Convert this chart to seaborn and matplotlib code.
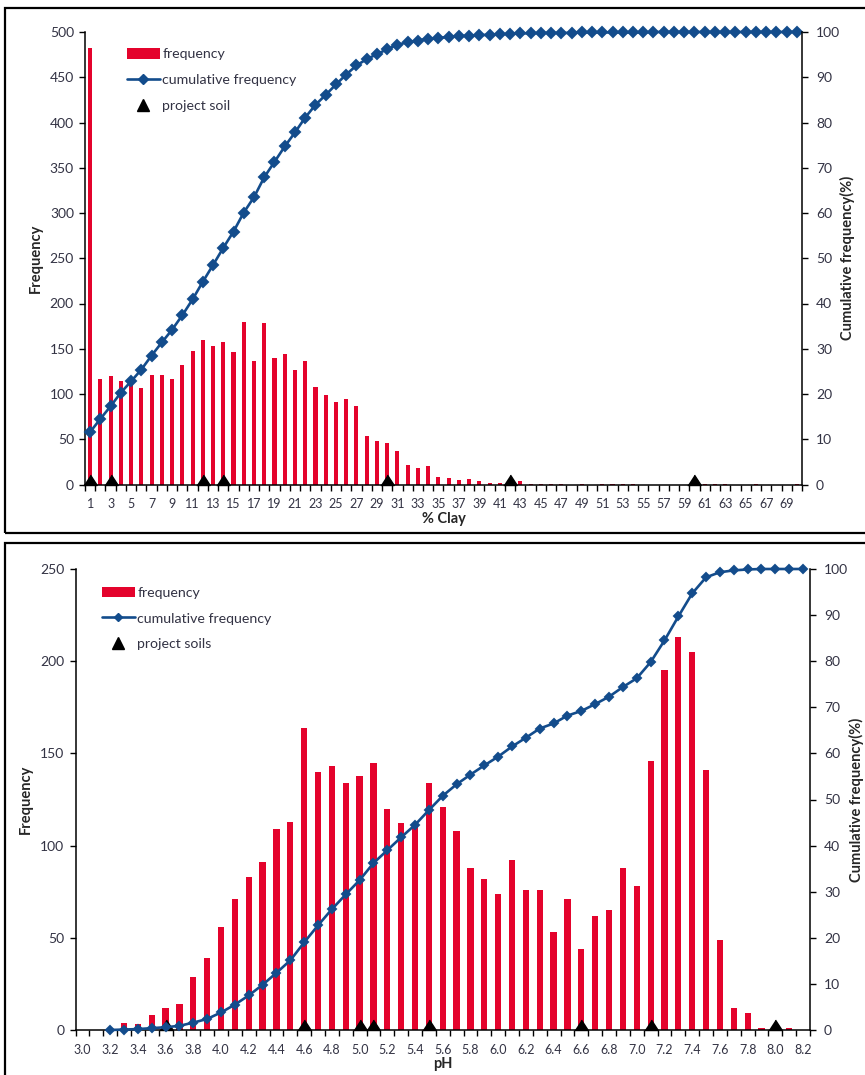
import numpy as np
import matplotlib
matplotlib.use("Agg")
import matplotlib.pyplot as plt
import seaborn as sns
from matplotlib.patches import Rectangle, Patch
from matplotlib.lines import Line2D

# clay chart data
clay_classes = [str(i) for i in range(1, 71)]
clay_freq = [482, 117, 120, 114, 111, 107, 121, 121, 117, 132,
             147, 160, 153, 158, 146, 180, 136, 178, 140, 144,
             126, 137, 108, 99, 91, 94, 87, 54, 48, 46,
             37, 21, 18, 20, 8, 7, 5, 6, 4, 2,
             2, 1, 4, 1, 1, 1, 1, 0, 1, 0,
             1, 1, 1, 1, 0, 0, 0, 0, 0, 0,
             1, 1, 1, 0, 0, 1, 0, 0, 0, 1]
clay_cum = [11.6, 14.5, 17.3, 20.3, 22.8, 25.4, 28.5, 31.4, 34.2, 37.4,
            40.9, 44.8, 48.5, 52.3, 55.9, 60.1, 63.5, 67.9, 71.3, 74.7,
            77.8, 81.1, 83.9, 86.1, 88.4, 90.6, 92.6, 94.0, 95.1, 96.2,
            97.2, 97.7, 98.1, 98.5, 98.7, 98.9, 99.1, 99.2, 99.3, 99.4,
            99.5, 99.6, 99.7, 99.7, 99.8, 99.8, 99.8, 99.8, 99.9, 99.9,
            99.9, 99.9, 99.9, 99.9, 99.9, 100, 100, 100, 100, 100,
            100, 100, 100, 100, 100, 100, 100, 100, 100, 100]
clay_soils = ["1", "3", "12", "14", "30", "42", "60"]

# pH chart data
ph_classes = ["%.1f" % (v / 10) for v in range(30, 83)]
ph_freq = [0, 0, 0, 4, 3, 8, 12, 14, 29, 39,
           56, 71, 83, 91, 109, 113, 164, 140, 143, 134,
           138, 145, 120, 112, 111, 134, 121, 108, 88, 82,
           74, 92, 76, 76, 53, 71, 44, 62, 65, 88,
           78, 146, 195, 213, 205, 141, 49, 12, 9, 1,
           0, 1, 0]
ph_cum_classes = ph_classes[2:]
ph_cum = [0, 0.1, 0.2, 0.4, 0.6, 0.9, 1.6, 2.4, 3.8, 5.5,
          7.5, 9.8, 12.4, 15.1, 19.0, 22.7, 26.2, 29.4, 32.5, 36.2,
          39.0, 41.8, 44.5, 47.7, 50.8, 53.3, 55.4, 57.4, 59.3, 61.5,
          63.4, 65.4, 66.5, 68.2, 69.2, 70.7, 72.3, 74.4, 76.3, 79.8,
          84.5, 89.7, 94.7, 98.2, 99.3, 99.7, 99.9, 100, 100, 100, 100]
ph_soils = ["3.6", "4.6", "5.0", "5.1", "5.5", "6.6", "7.1", "8.0"]

RED = "#E4032C"
BLUE = "#134C8C"
TXT = "#333344"

sns.set_theme(style="ticks")
plt.rcParams["font.family"] = ["Lato", "DejaVu Sans"]

fig = plt.figure(figsize=(8.65, 10.75), dpi=100)
W, H = 865.0, 1075.0

# panel frames
fig.add_artist(Rectangle((5 / W, 1 - 533 / H), 1.2, 525 / H, transform=fig.transFigure,
                         fill=False, lw=1.6, ec="black"))
fig.add_artist(Rectangle((5 / W, -0.1), 1.2, 0.1 + 1 - 543 / H, transform=fig.transFigure,
                         fill=False, lw=1.6, ec="black"))

# triangle with its base on the data point
tri = [(-0.65, 0), (0.65, 0), (0, 1)]


def draw_panel(rect, cats, freq, cum_cats, cum, soils, ymax, ystep, bar_w, ms_d, xlabel,
               soil_label, leg_xy, leg_space, ylab_pad, y2lab_pad):
    ax = fig.add_axes(rect)
    ax2 = ax.twinx()
    sns.barplot(x=cats, y=freq, order=cats, color=RED, saturation=1, width=bar_w,
                linewidth=0, ax=ax)
    sns.pointplot(x=cum_cats, y=cum, order=cats, color=BLUE, markers="D", errorbar=None,
                  markersize=ms_d, linewidth=1.9, clip_on=False, ax=ax2)
    idx = [cats.index(s) for s in soils]
    ax.plot(idx, [0] * len(idx), linestyle="none", marker=tri, ms=15, color="black",
            clip_on=False, zorder=5)

    n = len(cats)
    ax.set_xlim(-0.5, n - 0.5)
    ax.set_ylim(0, ymax)
    ax.set_yticks(np.arange(0, ymax + 1, ystep))
    ax2.set_ylim(0, 100)
    ax2.set_yticks(np.arange(0, 101, 10))
    ax.set_xticks(range(0, n, 2))
    ax.set_xticklabels(cats[::2])
    ax.set_xticks(np.arange(-0.5, n), minor=True)
    ax.tick_params(axis="x", which="major", length=0, pad=10, labelsize=9, labelcolor=TXT)
    ax.tick_params(axis="x", which="minor", length=4, width=1, color="black", direction="out")
    ax.tick_params(axis="y", length=4, width=1, color="black", pad=4, labelsize=10, labelcolor=TXT)
    ax2.tick_params(axis="y", length=4, width=1, color="black", pad=6, labelsize=10, labelcolor=TXT)

    for a in (ax, ax2):
        a.spines["top"].set_visible(False)
        for s in a.spines.values():
            s.set_color("black")
            s.set_linewidth(1.1)
    ax.spines["right"].set_visible(False)
    ax2.spines["left"].set_visible(False)
    ax2.spines["bottom"].set_visible(False)

    ax.set_xlabel(xlabel, fontsize=10.5, fontweight="bold", labelpad=1)
    ax.set_ylabel("Frequency", fontsize=10.5, fontweight="bold", labelpad=ylab_pad)
    ax2.set_ylabel("Cumulative frequency(%)", fontsize=10.5, fontweight="bold", labelpad=y2lab_pad)

    handles = [Patch(facecolor=RED, edgecolor="none"),
               Line2D([], [], color=BLUE, lw=1.9, marker="D", ms=ms_d),
               Line2D([], [], color="black", ls="none", marker="^", ms=8.5)]
    labels = ["frequency", "cumulative frequency", soil_label]
    leg = ax2.legend(handles, labels, loc="upper left", bbox_to_anchor=leg_xy, frameon=False,
                     fontsize=10.2, handlelength=2.3, handleheight=0.75, handletextpad=0.2,
                     labelspacing=leg_space, borderpad=0, borderaxespad=0)
    for t in leg.get_texts():
        t.set_color(TXT)
    return ax, ax2


draw_panel([85 / W, 1 - 484.5 / H, 717 / W, 452.5 / H], clay_classes, clay_freq,
           clay_classes, clay_cum, clay_soils, 500, 50, 0.4, 5.6, "% Clay", "project soil",
           (0.0586, 0.964), 0.97, 5, 0)
draw_panel([75.5 / W, 1 - 1030 / H, 734.5 / W, 461 / H], ph_classes, ph_freq,
           ph_cum_classes, ph_cum, ph_soils, 250, 50, 0.45, 4.4, "pH", "project soils",
           (0.036, 0.961), 0.94, 5, 1)

fig.savefig("out.png", dpi=100)
